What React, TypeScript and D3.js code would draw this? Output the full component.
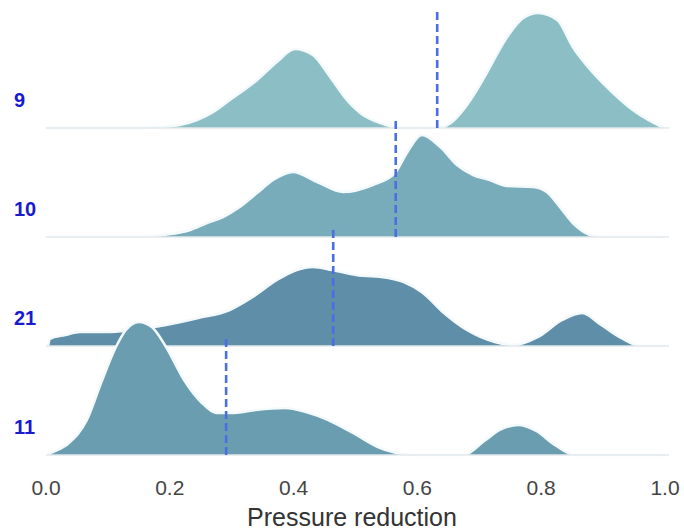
import React from 'react';
import * as d3 from 'd3';

// Ridge categories (top to bottom)
const categories = ['9', '10', '21', '11'];
// Vertical dashed reference (median) per category
const medians = [0.632, 0.565, 0.464, 0.291];
// X axis ticks
const xTicks = [0, 0.2, 0.4, 0.6, 0.8, 1.0];
const xTickLabels = ['0.0', '0.2', '0.4', '0.6', '0.8', '1.0'];
const xTitle = 'Pressure reduction';

// Density estimates (x grid and density) per category
const grid9 = [0, 0.150, 0.168, 0.189, 0.216, 0.244, 0.273, 0.297, 0.320, 0.341, 0.373, 0.402, 0.431, 0.459, 0.486, 0.512, 0.540, 0.561, 0.580, 0.620, 0.640, 0.656, 0.674, 0.693, 0.712, 0.745, 0.771, 0.795, 0.826, 0.851, 0.884, 0.916, 0.948, 0.973, 0.992, 1.0];
const dens9 = [0, 0, 0.05, 0.1, 0.3, 0.8, 1.7, 2.8, 3.8, 4.8, 6.6, 7.9, 7.3, 5.1, 2.8, 1.3, 0.5, 0.1, 0, 0, 0.1, 0.6, 1.8, 3.5, 5.5, 9.1, 11.0, 11.5, 10.8, 8.1, 5.5, 3.5, 1.8, 0.8, 0.2, 0];

const grid10 = [0, 0.16, 0.189, 0.233, 0.260, 0.286, 0.313, 0.341, 0.367, 0.399, 0.438, 0.480, 0.528, 0.564, 0.583, 0.607, 0.637, 0.664, 0.690, 0.717, 0.745, 0.787, 0.809, 0.830, 0.851, 0.879, 0.895, 0.92, 1.0];
const dens10 = [0, 0, 0.2, 0.7, 1.4, 2.0, 3.0, 4.4, 5.7, 6.5, 5.5, 4.5, 5.2, 6.4, 8.4, 10.2, 9.0, 7.2, 6.2, 5.7, 5.1, 5.0, 4.5, 3.0, 1.4, 0.2, 0, 0, 0];

const grid21 = [0, 0.003, 0.006, 0.031, 0.055, 0.105, 0.152, 0.194, 0.246, 0.297, 0.334, 0.373, 0.405, 0.431, 0.462, 0.501, 0.553, 0.578, 0.609, 0.641, 0.680, 0.725, 0.756, 0.795, 0.834, 0.866, 0.897, 0.929, 0.961, 1.0];
const dens21 = [0, 0, 0.7, 1.1, 1.4, 1.4, 1.7, 2.1, 2.8, 3.6, 4.9, 6.6, 7.6, 7.9, 7.6, 7.1, 6.8, 6.4, 5.3, 3.4, 1.6, 0.4, 0.1, 0.9, 2.6, 3.3, 2.1, 0.8, 0, 0];

const grid11 = [0, 0.002, 0.008, 0.037, 0.066, 0.089, 0.113, 0.129, 0.150, 0.171, 0.194, 0.223, 0.252, 0.275, 0.304, 0.339, 0.386, 0.420, 0.456, 0.496, 0.536, 0.577, 0.596, 0.675, 0.708, 0.733, 0.763, 0.792, 0.822, 0.855, 1.0];
const dens11 = [0, 0, 0.2, 1.2, 3.5, 7.2, 10.8, 12.5, 13.3, 12.8, 10.8, 7.5, 5.2, 4.2, 4.2, 4.5, 4.7, 4.3, 3.5, 2.2, 0.8, 0.1, 0, 0, 1.4, 2.5, 3.0, 2.4, 1.0, 0, 0];

const grids = [grid9, grid10, grid21, grid11];
const densities = [dens9, dens10, dens21, dens11];
const fillColors = ['#8cbfc5', '#78acba', '#5f8ea8', '#6a9db0'];

const W = 684;
const H = 530;

export default function App() {
  const x = d3.scaleLinear().domain([0, 1]).range([46, 665]);
  const rowY = d3.scalePoint<string>().domain(categories).range([128, 455]);
  const hScale = d3.scaleLinear().domain([0, 1]).range([0, 10]);
  const step = rowY.step();
  const font = '"Liberation Sans", Arial, sans-serif';

  return (
    <div style={{ position: 'absolute', left: 0, top: 0 }}>
      <svg width={W} height={H} style={{ display: 'block', background: '#fff' }}>
        {categories.map((cat, i) => {
          const base = rowY(cat) as number;
          const pts = grids[i].map((g, j) => [g, densities[i][j]] as [number, number]);
          const area = d3
            .area<[number, number]>()
            .x((d) => x(d[0]))
            .y0(base)
            .y1((d) => base - hScale(d[1]))
            .curve(d3.curveMonotoneX);
          const line = d3
            .line<[number, number]>()
            .x((d) => x(d[0]))
            .y((d) => base - hScale(d[1]))
            .curve(d3.curveMonotoneX);
          return (
            <g key={cat}>
              <path d={area(pts) || ''} fill={fillColors[i]} stroke="none" />
              <path d={line(pts) || ''} fill="none" stroke="#f4fafb" strokeWidth={2.5} strokeLinejoin="round" />
              <line x1={x(0)} x2={x(1) + 4} y1={base} y2={base} stroke="#e3e9ec" strokeWidth={1.5} />
              <line
                x1={x(medians[i])}
                x2={x(medians[i])}
                y1={base}
                y2={base - step * 1.065}
                stroke="#4a6fe0"
                strokeWidth={2.6}
                strokeDasharray="8,4"
              />
              <text
                x={14}
                y={base - 21}
                fill="#1a1acd"
                fontFamily={font}
                fontWeight="bold"
                fontSize={20}
              >
                {cat}
              </text>
            </g>
          );
        })}
        {xTicks.map((t, i) => (
          <text
            key={t}
            x={x(t)}
            y={495}
            textAnchor="middle"
            fill="#444"
            fontFamily={font}
            fontSize={21}
          >
            {xTickLabels[i]}
          </text>
        ))}
        <text x={352} y={526} textAnchor="middle" fill="#333" fontFamily={font} fontSize={25}>
          {xTitle}
        </text>
      </svg>
    </div>
  );
}
